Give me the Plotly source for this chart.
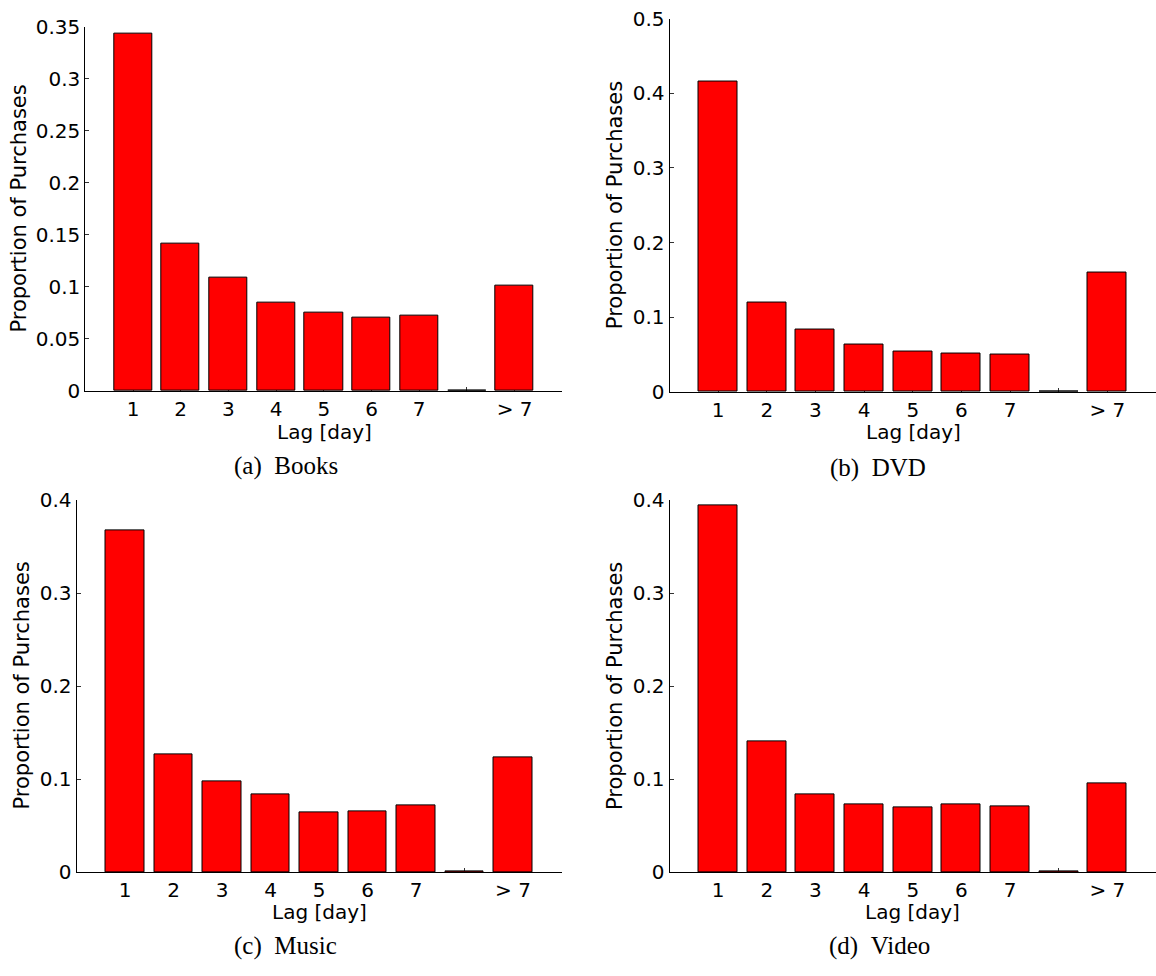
import plotly.graph_objects as go

# Lag categories: 1..7 days, an empty spacer slot, then "> 7"
lag_pos = [1, 2, 3, 4, 5, 6, 7, 8, 9]
lag_labels = ["1", "2", "3", "4", "5", "6", "7", "", "> 7"]

# Proportion of purchases per lag (spacer slot is essentially empty)
books = [0.3434, 0.1415, 0.109, 0.0848, 0.0748, 0.0707, 0.072, 0.0005, 0.1016]
dvd = [0.4157, 0.1192, 0.083, 0.0638, 0.0546, 0.0515, 0.0507, 0.0005, 0.160]
music = [0.3675, 0.127, 0.0976, 0.0833, 0.064, 0.0654, 0.0717, 0.0005, 0.1232]
video = [0.395, 0.1403, 0.0836, 0.0728, 0.0693, 0.0728, 0.0707, 0.0005, 0.0952]

books_yticks = [0, 0.05, 0.1, 0.15, 0.2, 0.25, 0.3, 0.35]
books_ylabels = ["0", "0.05", "0.1", "0.15", "0.2", "0.25", "0.3", "0.35"]
dvd_yticks = [0, 0.1, 0.2, 0.3, 0.4, 0.5]
dvd_ylabels = ["0", "0.1", "0.2", "0.3", "0.4", "0.5"]
mv_yticks = [0, 0.1, 0.2, 0.3, 0.4]
mv_ylabels = ["0", "0.1", "0.2", "0.3", "0.4"]

captions = ["(a)\u2002Books", "(b)\u2002DVD", "(c)\u2002Music", "(d)\u2002Video"]
x_title = "Lag [day]"
y_title = "Proportion of Purchases"

W, H = 1156, 976
SANS = "DejaVu Sans"
SERIF = "Liberation Serif"


def px_x(v):
    return v / W


def px_y(v):
    return 1 - v / H


# panel geometry in pixels: (left, right, top, zero-line)
panels = [
    dict(data=books, yt=books_yticks, yl=books_ylabels, yr=0.35,
         box=(85.3, 562.3, 15.0, 388.5), ylab=(19.5, 202), lag=(324, 431), cap=(286, 465)),
    dict(data=dvd, yt=dvd_yticks, yl=dvd_ylabels, yr=0.5,
         box=(669.5, 1156, 6.7, 389.5), ylab=(615, 198), lag=(913, 431), cap=(878, 467)),
    dict(data=music, yt=mv_yticks, yl=mv_ylabels, yr=0.4,
         box=(76.5, 561.5, 500.7, 881.7), ylab=(22.5, 691), lag=(319, 923), cap=(285, 958)),
    dict(data=video, yt=mv_yticks, yl=mv_ylabels, yr=0.4,
         box=(669.5, 1156, 500.7, 881.7), ylab=(615, 691), lag=(912.5, 923), cap=(879, 958)),
]

fig = go.Figure()
annotations = []

for i, p in enumerate(panels, start=1):
    sfx = "" if i == 1 else str(i)
    fig.add_trace(go.Bar(
        x=lag_pos, y=p["data"], width=0.8,
        marker=dict(color="#FF0000", line=dict(color="black", width=1)),
        xaxis="x" + sfx, yaxis="y" + sfx, showlegend=False,
    ))
    l, r, t, z = p["box"]
    axis_common = dict(
        showline=True, linecolor="black", linewidth=1,
        ticks="inside", ticklen=4, tickcolor="#333333", tickwidth=1,
        showgrid=False, zeroline=False, layer="below traces",
        tickfont=dict(family=SANS, size=20, color="black"),
        fixedrange=True,
    )
    fig.update_layout(**{
        "xaxis" + sfx: dict(
            domain=[px_x(l), px_x(r)], range=[0, 10], anchor="y" + sfx,
            tickmode="array", tickvals=lag_pos, ticktext=lag_labels,
            ticklabelstandoff=0, **axis_common),
        "yaxis" + sfx: dict(
            domain=[px_y(z), px_y(t)], range=[0, p["yr"]], anchor="x" + sfx,
            tickmode="array", tickvals=p["yt"], ticktext=p["yl"],
            ticklabelstandoff=0, **axis_common),
    })
    annotations.append(dict(
        x=px_x(p["ylab"][0]), y=px_y(p["ylab"][1]), xref="paper", yref="paper",
        text=y_title, textangle=-90, showarrow=False,
        xanchor="center", yanchor="middle",
        font=dict(family=SANS, size=21, color="black")))
    annotations.append(dict(
        x=px_x(p["lag"][0]), y=px_y(p["lag"][1]), xref="paper", yref="paper",
        text=x_title, showarrow=False, xanchor="center", yanchor="middle",
        font=dict(family=SANS, size=20, color="black")))
    annotations.append(dict(
        x=px_x(p["cap"][0]), y=px_y(p["cap"][1]), xref="paper", yref="paper",
        text=captions[i - 1], showarrow=False, xanchor="center", yanchor="middle",
        font=dict(family=SERIF, size=25, color="black")))

fig.update_layout(
    width=W, height=H, margin=dict(l=0, r=0, t=0, b=0),
    paper_bgcolor="white", plot_bgcolor="white",
    bargap=0, annotations=annotations,
)

fig.write_html("out.html", config={"displayModeBar": False})
